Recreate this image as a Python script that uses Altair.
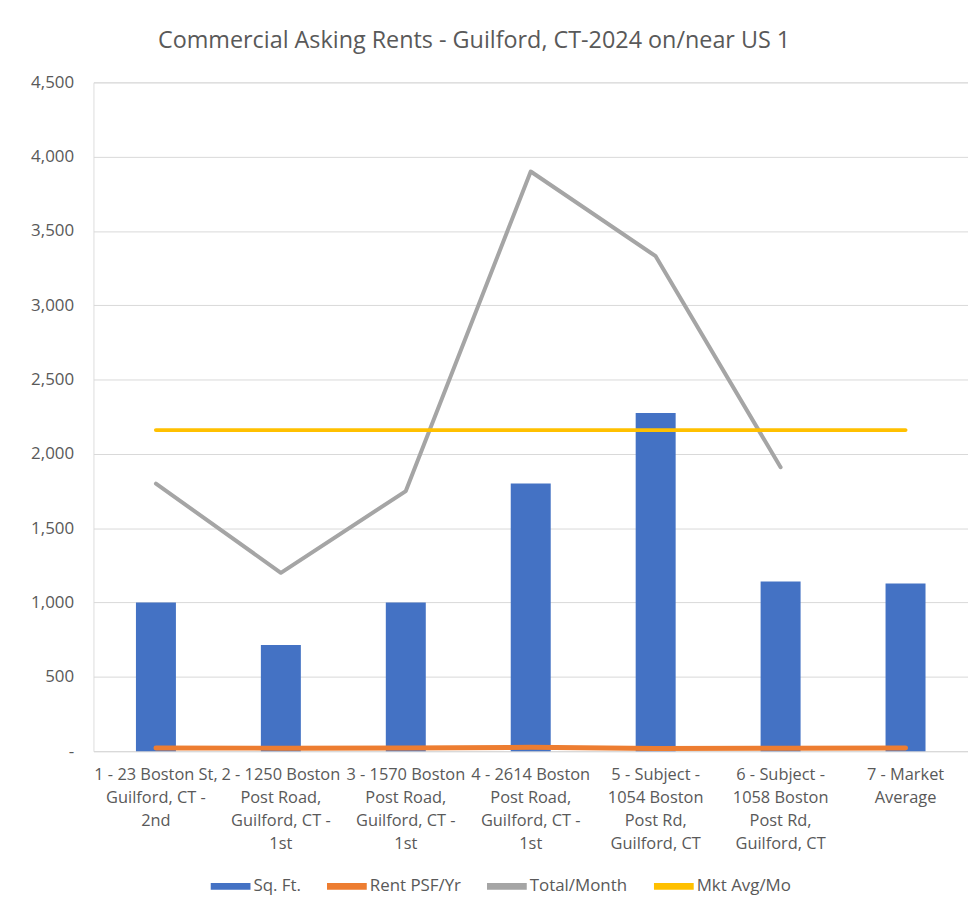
import altair as alt
import pandas as pd

# ---- data ----
categories = [
    "1 - 23 Boston St,|Guilford, CT -|2nd",
    "2 - 1250 Boston|Post Road,|Guilford, CT -|1st",
    "3 - 1570 Boston|Post Road,|Guilford, CT -|1st",
    "4 - 2614 Boston|Post Road,|Guilford, CT -|1st",
    "5 - Subject -|1054 Boston|Post Rd,|Guilford, CT",
    "6 - Subject -|1058 Boston|Post Rd,|Guilford, CT",
    "7 - Market|Average",
]
sq_ft = [1000, 715, 1000, 1800, 2275, 1141, 1128]
rent_psf_yr = [21.6, 20.1, 21.0, 26.0, 17.6, 20.1, 21.0]
total_month = [1800, 1200, 1750, 3900, 3330, 1910, None]
mkt_avg_mo = [2160, 2160, 2160, 2160, 2160, 2160, 2160]

series_names = ["Sq. Ft.", "Rent PSF/Yr", "Total/Month", "Mkt Avg/Mo"]
series_colors = ["#4472C4", "#ED7D31", "#A5A5A5", "#FFC000"]

bars_df = pd.DataFrame({"cat": categories, "value": sq_ft, "series": "Sq. Ft."})
rows = []
for name, vals in [("Rent PSF/Yr", rent_psf_yr), ("Total/Month", total_month), ("Mkt Avg/Mo", mkt_avg_mo)]:
    for c, v in zip(categories, vals):
        if v is not None:
            rows.append({"cat": c, "value": v, "series": name})
lines_df = pd.DataFrame(rows)

FONT = "'Open Sans', sans-serif"
TXT = "#595959"

color = alt.Color(
    "series:N",
    scale=alt.Scale(domain=series_names, range=series_colors),
    legend=alt.Legend(
        title=None,
        orient="none",
        legendX=118,
        legendY=789,
        direction="horizontal",
        symbolType="M-1,-0.17H1V0.17H-1Z",
        symbolSize=1600,
        symbolStrokeWidth=0,
        labelFontSize=17,
        labelColor=TXT,
        labelFont=FONT,
        columnPadding=26,
        labelOffset=3,
    ),
)

x = alt.X(
    "cat:N",
    sort=categories,
    title=None,
    scale=alt.Scale(paddingInner=0.68, paddingOuter=0.34),
    axis=alt.Axis(
        labelAngle=0,
        labelExpr="split(datum.label, '|')",
        labelFontSize=16.5,
        labelLineHeight=23,
        labelColor=TXT,
        labelFont=FONT,
        labelLimit=300,
        labelPadding=16,
        ticks=False,
        grid=False,
        domainColor="#D9D9D9",
        labelAlign="center",
        labelBaseline="top",
    ),
)

y = alt.Y(
    "value:Q",
    title=None,
    scale=alt.Scale(domain=[0, 4500], nice=False),
    axis=alt.Axis(
        values=list(range(0, 4501, 500)),
        labelExpr="datum.value == 0 ? '-' : format(datum.value, ',')",
        labelFontSize=17,
        labelColor=TXT,
        labelFont=FONT,
        labelPadding=20,
        ticks=False,
        domain=False,
        gridColor="#D9D9D9",
    ),
)

bars = alt.Chart(bars_df).mark_bar().encode(x=x, y=y, color=color)
lines = alt.Chart(lines_df).mark_line(strokeCap="round", strokeJoin="round").encode(
    x=x,
    y=y,
    color=color,
    strokeWidth=alt.condition(alt.datum.series == "Rent PSF/Yr", alt.value(5), alt.value(4)),
    detail="series:N",
)

chart = (
    alt.layer(bars, lines)
    .properties(
        width=880,
        height=673,
        autosize=alt.AutoSizeParams(type="none"),
        padding={"left": 86, "top": 72, "right": 0, "bottom": 150},
        title=alt.TitleParams(
            "Commercial Asking Rents - Guilford, CT-2024 on/near US 1",
            fontSize=23.5,
            font=FONT,
            fontWeight="normal",
            color=TXT,
            anchor="middle",
            dx=-57,
            offset=-3,
            baseline="bottom",
        ),
    )
    .configure_view(stroke="transparent", strokeWidth=0)
    .configure_axisX(grid=False)
    .configure(background="white")
)

chart.save("out.html", embed_options={"renderer": "svg", "actions": False})
